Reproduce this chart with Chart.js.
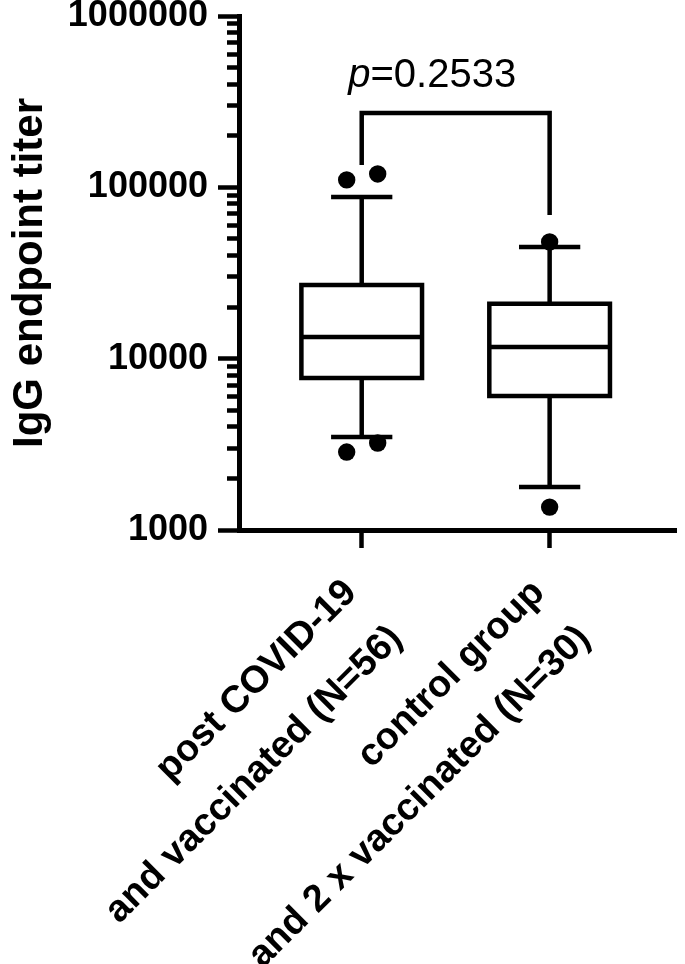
<!DOCTYPE html>
<html><head><meta charset="utf-8">
<script src="https://cdn.jsdelivr.net/npm/chart.js@4"></script>
<style>html,body{margin:0;padding:0;background:#fff}canvas{display:block}</style>
</head><body>
<canvas id="c" width="685" height="964"></canvas>
<script>
// ---- data ----
const categories = [['post COVID-19', 'and vaccinated (N=56)'], ['control group', 'and 2 x vaccinated (N=30)']];
const q1 = [7700, 6050];
const medians = [13400, 11700];
const q3 = [26900, 20900];
const whiskerLow = [3490, 1780];
const whiskerHigh = [87900, 44900];
const outliers = [[110500, 119700, 2850, 3220], [48000, 1360]];
const yTickLabels = [1000, 10000, 100000, 1000000];
const pValueText = '=0.2533';
const bracketLevels = [135000, 272000, 272000, 69000];

// ---- styling constants ----
const outlierOffsets = [[-0.08, 0.085, -0.08, 0.085], [0, 0]];
const BOX_HALF = 0.321, CAP_HALF = 0.163, LW = 4.5;
const FONT = "'Liberation Sans', Arial, sans-serif";

const lineStyle = {type: 'scatter', showLine: true, borderColor: '#000', borderWidth: LW, pointRadius: 0,
  fill: false, tension: 0, borderJoinStyle: 'miter', borderCapStyle: 'butt'};
const datasets = [];
categories.forEach((c, i) => {
  const x = i + 1;
  datasets.push({...lineStyle, data: [{x, y: q3[i]}, {x, y: whiskerHigh[i]}]});
  datasets.push({...lineStyle, data: [{x, y: q1[i]}, {x, y: whiskerLow[i]}]});
  datasets.push({...lineStyle, data: [{x: x - CAP_HALF, y: whiskerHigh[i]}, {x: x + CAP_HALF, y: whiskerHigh[i]}]});
  datasets.push({...lineStyle, data: [{x: x - CAP_HALF, y: whiskerLow[i]}, {x: x + CAP_HALF, y: whiskerLow[i]}]});
  datasets.push({...lineStyle, data: [
    {x: x - BOX_HALF, y: q1[i]}, {x: x + BOX_HALF, y: q1[i]}, {x: x + BOX_HALF, y: q3[i]},
    {x: x - BOX_HALF, y: q3[i]}, {x: x - BOX_HALF, y: q1[i]}, {x: x + BOX_HALF, y: q1[i]}]});
  datasets.push({...lineStyle, data: [{x: x - BOX_HALF, y: medians[i]}, {x: x + BOX_HALF, y: medians[i]}]});
  datasets.push({type: 'scatter', data: outliers[i].map((v, k) => ({x: x + outlierOffsets[i][k], y: v})),
    pointRadius: 8.7, pointBackgroundColor: '#000', pointBorderWidth: 0, showLine: false});
});
// significance bracket between the two groups
datasets.push({...lineStyle, data: [
  {x: 1, y: bracketLevels[0]}, {x: 1, y: bracketLevels[1]}, {x: 2, y: bracketLevels[2]}, {x: 2, y: bracketLevels[3]}]});

const pLabel = {
  id: 'pLabel',
  afterDatasetsDraw(chart) {
    const {ctx, scales: {x, y}} = chart;
    ctx.save();
    ctx.fillStyle = '#000';
    ctx.textBaseline = 'alphabetic';
    ctx.font = `italic 40px ${FONT}`;
    const pw = ctx.measureText('p').width;
    ctx.font = `40px ${FONT}`;
    const rw = ctx.measureText(pValueText).width;
    const cx = x.getPixelForValue(1.375);
    const by = y.getPixelForValue(385000);
    const sx = cx - (pw + rw) / 2;
    ctx.font = `italic 40px ${FONT}`;
    ctx.fillText('p', sx, by);
    ctx.font = `40px ${FONT}`;
    ctx.fillText(pValueText, sx + pw, by);
    ctx.restore();
  }
};

new Chart(document.getElementById('c'), {
  type: 'scatter',
  data: {datasets},
  options: {
    responsive: false, animation: false, events: [],
    layout: {padding: {top: 16, right: 5, left: 0, bottom: 0}},
    plugins: {legend: {display: false}, tooltip: {enabled: false}},
    scales: {
      x: {
        type: 'linear', min: 0.347, max: 2.674, position: 'bottom',
        afterBuildTicks(s) { s.ticks = categories.map((c, i) => ({value: i + 1})); },
        afterFit(s) { s.height = 434; s.paddingLeft = 0; s.paddingRight = 0; },
        ticks: {autoSkip: false, minRotation: 45, maxRotation: 45, padding: 16, labelOffset: -11, color: '#000',
          font: {family: FONT, weight: 'bold', size: 38, lineHeight: 1.7},
          callback: (v, i) => categories[i]},
        grid: {drawOnChartArea: false, tickLength: 18, tickWidth: LW, tickColor: '#000'},
        border: {display: true, width: 5, color: '#000'}
      },
      y: {
        type: 'logarithmic', min: 1000, max: 1000000, position: 'left',
        afterBuildTicks(s) {
          const t = [];
          yTickLabels.forEach((b, d) => {
            t.push({value: b, major: true});
            if (d < yTickLabels.length - 1) for (let m = 2; m <= 9; m++) t.push({value: b * m});
          });
          s.ticks = t;
        },
        afterFit(s) { s.width = 239; s.paddingTop = 0; s.paddingBottom = 0; },
        ticks: {autoSkip: false, padding: 10, color: '#000',
          font: {family: FONT, weight: 'bold', size: 36, lineHeight: 0.8},
          callback: (v) => yTickLabels.includes(v) ? String(v) : ''},
        grid: {drawOnChartArea: false, tickLength: 21, tickWidth: LW, tickColor: '#000',
          tickBorderDash: (ctx) => (ctx.tick && yTickLabels.includes(ctx.tick.value)) ? [] : [0, 9, 12, 100]},
        border: {display: true, width: 5, color: '#000'},
        title: {display: true, text: 'IgG endpoint titer', color: '#000',
          font: {family: FONT, weight: 'bold', size: 42}, padding: {top: 5, bottom: 0}}
      }
    }
  },
  plugins: [pLabel]
});
</script>
</body></html>
